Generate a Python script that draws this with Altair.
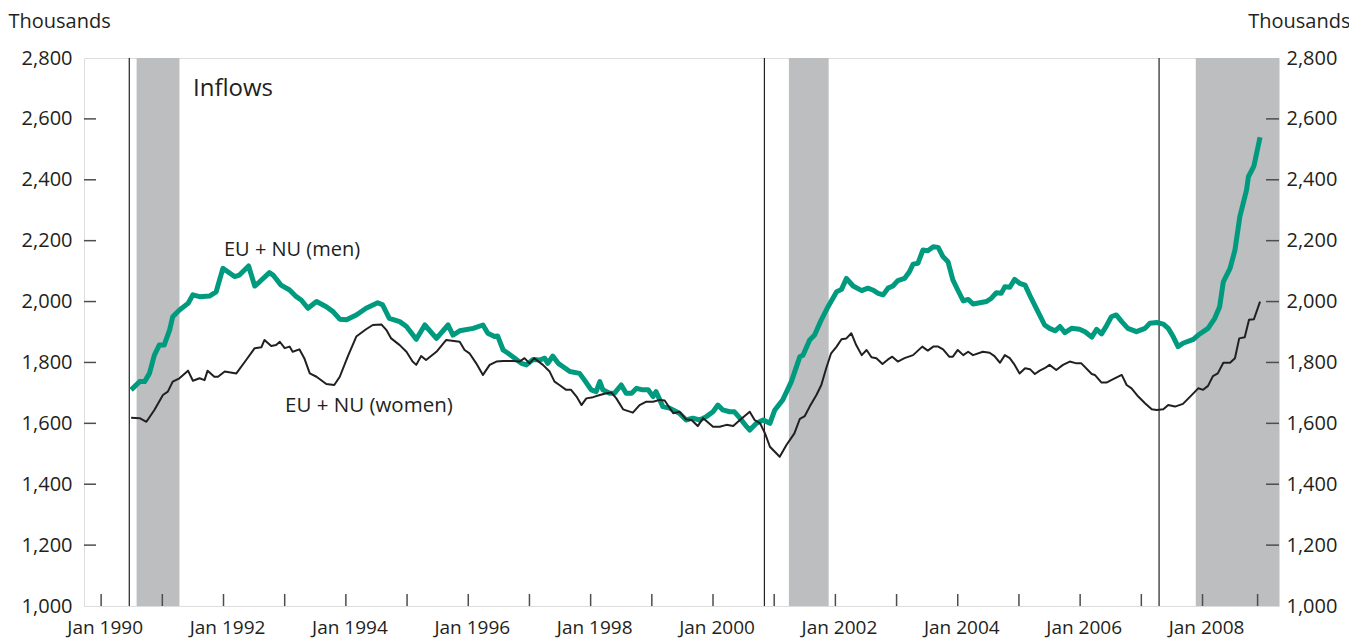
import altair as alt
import pandas as pd

# ---------------- data ----------------
men_years = [
    1990.49, 1990.63, 1990.71, 1990.79, 1990.87, 1990.95, 1991.03, 1991.12, 1991.17, 1991.28,
    1991.42, 1991.50, 1991.61, 1991.77, 1991.88, 1991.99, 1992.07, 1992.18, 1992.26, 1992.41,
    1992.51, 1992.59, 1992.75, 1992.81, 1992.94, 1993.08, 1993.19, 1993.27, 1993.38, 1993.52,
    1993.68, 1993.79, 1993.90, 1994.01, 1994.17, 1994.33, 1994.52, 1994.60, 1994.71, 1994.88,
    1994.99, 1995.15, 1995.29, 1995.48, 1995.67, 1995.75, 1995.86, 1996.08, 1996.24, 1996.32,
    1996.43, 1996.48, 1996.57, 1996.65, 1996.76, 1996.87, 1996.95, 1997.06, 1997.17, 1997.25,
    1997.30, 1997.38, 1997.47, 1997.55, 1997.66, 1997.82, 1997.90, 1998.01, 1998.09, 1998.15,
    1998.20, 1998.31, 1998.39, 1998.50, 1998.58, 1998.67, 1998.75, 1998.85, 1998.94, 1999.02,
    1999.07, 1999.13, 1999.18, 1999.29, 1999.45, 1999.56, 1999.67, 1999.78, 1999.89, 2000.00,
    2000.08, 2000.16, 2000.27, 2000.35, 2000.44, 2000.55, 2000.60, 2000.71, 2000.82, 2000.93,
    2001.01, 2001.14, 2001.28, 2001.42, 2001.47, 2001.58, 2001.66, 2001.77, 2001.88, 2002.02,
    2002.10, 2002.18, 2002.29, 2002.43, 2002.53, 2002.61, 2002.70, 2002.78, 2002.86, 2002.94,
    2003.02, 2003.13, 2003.21, 2003.27, 2003.35, 2003.43, 2003.51, 2003.60, 2003.68, 2003.76,
    2003.84, 2003.92, 2004.00, 2004.09, 2004.17, 2004.25, 2004.36, 2004.47, 2004.55, 2004.63,
    2004.71, 2004.77, 2004.85, 2004.93, 2005.01, 2005.10, 2005.20, 2005.31, 2005.42, 2005.50,
    2005.59, 2005.67, 2005.75, 2005.86, 2005.99, 2006.08, 2006.19, 2006.27, 2006.35, 2006.43,
    2006.51, 2006.59, 2006.68, 2006.78, 2006.92, 2007.06, 2007.14, 2007.25, 2007.36, 2007.44,
    2007.52, 2007.60, 2007.68, 2007.85, 2007.93, 2008.09, 2008.20, 2008.28, 2008.34, 2008.45,
    2008.53, 2008.61, 2008.72, 2008.75, 2008.84, 2008.94,
]
men_values = [
    1710, 1737, 1737, 1764, 1824, 1857, 1857, 1907, 1950, 1972,
    1994, 2022, 2016, 2018, 2032, 2109, 2098, 2082, 2087, 2117,
    2051, 2065, 2095, 2087, 2054, 2038, 2016, 2005, 1978, 2000,
    1983, 1967, 1942, 1940, 1956, 1978, 1996, 1989, 1945, 1934,
    1918, 1876, 1923, 1879, 1923, 1890, 1904, 1912, 1923, 1896,
    1885, 1887, 1841, 1830, 1814, 1797, 1792, 1810, 1808, 1814,
    1797, 1821, 1797, 1786, 1770, 1764, 1742, 1710, 1704, 1737,
    1710, 1699, 1699, 1726, 1699, 1699, 1715, 1710, 1710, 1688,
    1704, 1677, 1655, 1650, 1633, 1611, 1617, 1611, 1622, 1638,
    1660, 1644, 1638, 1638, 1617, 1589, 1578, 1600, 1611, 1600,
    1644, 1677, 1737, 1819, 1824, 1874, 1890, 1940, 1983, 2032,
    2040, 2076, 2051, 2036, 2044, 2038, 2027, 2022, 2044, 2051,
    2069, 2076, 2098, 2123, 2126, 2169, 2167, 2180, 2178, 2147,
    2131, 2071, 2038, 2002, 2007, 1992, 1996, 2000, 2011, 2029,
    2027, 2049, 2047, 2073, 2060, 2054, 2011, 1967, 1923, 1912,
    1904, 1918, 1898, 1912, 1909, 1901, 1883, 1909, 1894, 1920,
    1950, 1956, 1934, 1912, 1901, 1912, 1929, 1931, 1926, 1912,
    1885, 1852, 1863, 1876, 1890, 1912, 1945, 1983, 2065, 2109,
    2169, 2279, 2367, 2410, 2445, 2540,
]

women_years = [
    1990.49, 1990.63, 1990.74, 1990.87, 1991.01, 1991.09, 1991.17, 1991.28, 1991.42, 1991.50,
    1991.61, 1991.69, 1991.74, 1991.85, 1991.91, 1992.02, 1992.21, 1992.37, 1992.51, 1992.62,
    1992.67, 1992.78, 1992.86, 1992.92, 1993.00, 1993.08, 1993.13, 1993.24, 1993.32, 1993.41,
    1993.52, 1993.68, 1993.81, 1993.90, 1994.03, 1994.17, 1994.33, 1994.44, 1994.58, 1994.66,
    1994.74, 1994.88, 1994.99, 1995.09, 1995.15, 1995.23, 1995.31, 1995.48, 1995.64, 1995.86,
    1995.94, 1996.02, 1996.13, 1996.24, 1996.35, 1996.46, 1996.57, 1996.73, 1996.84, 1996.92,
    1997.00, 1997.08, 1997.22, 1997.33, 1997.41, 1997.49, 1997.60, 1997.68, 1997.77, 1997.85,
    1997.93, 1998.04, 1998.15, 1998.26, 1998.34, 1998.42, 1998.53, 1998.69, 1998.80, 1998.91,
    1999.02, 1999.13, 1999.21, 1999.35, 1999.45, 1999.50, 1999.56, 1999.65, 1999.75, 1999.84,
    2000.00, 2000.11, 2000.22, 2000.33, 2000.44, 2000.60, 2000.68, 2000.77, 2000.85, 2000.93,
    2001.09, 2001.20, 2001.33, 2001.42, 2001.50, 2001.58, 2001.69, 2001.77, 2001.85, 2001.93,
    2002.02, 2002.10, 2002.18, 2002.26, 2002.34, 2002.43, 2002.51, 2002.59, 2002.67, 2002.77,
    2002.86, 2002.93, 2003.02, 2003.13, 2003.27, 2003.42, 2003.51, 2003.60, 2003.68, 2003.76,
    2003.86, 2003.92, 2004.00, 2004.09, 2004.17, 2004.25, 2004.41, 2004.52, 2004.60, 2004.69,
    2004.77, 2004.85, 2004.93, 2005.01, 2005.10, 2005.18, 2005.26, 2005.34, 2005.42, 2005.50,
    2005.61, 2005.72, 2005.83, 2005.94, 2006.02, 2006.19, 2006.24, 2006.35, 2006.43, 2006.54,
    2006.68, 2006.76, 2006.84, 2006.95, 2007.06, 2007.17, 2007.25, 2007.36, 2007.44, 2007.55,
    2007.68, 2007.79, 2007.93, 2008.01, 2008.09, 2008.17, 2008.25, 2008.34, 2008.45, 2008.53,
    2008.60, 2008.69, 2008.76, 2008.84, 2008.94,
]
women_values = [
    1618, 1617, 1605, 1644, 1693, 1704, 1737, 1748, 1773, 1740,
    1748, 1742, 1773, 1753, 1753, 1770, 1764, 1808, 1847, 1850,
    1874, 1854, 1857, 1868, 1847, 1852, 1835, 1843, 1814, 1764,
    1753, 1729, 1726, 1753, 1819, 1885, 1909, 1923, 1925, 1907,
    1879, 1857, 1835, 1803, 1792, 1821, 1808, 1835, 1874, 1868,
    1841, 1830, 1797, 1759, 1792, 1803, 1805, 1805, 1803, 1814,
    1797, 1814, 1792, 1770, 1737, 1726, 1710, 1710, 1688, 1660,
    1682, 1686, 1693, 1699, 1701, 1682, 1646, 1635, 1660, 1671,
    1671, 1677, 1675, 1633, 1638, 1627, 1613, 1611, 1591, 1617,
    1589, 1589, 1595, 1591, 1611, 1638, 1611, 1600, 1567, 1523,
    1490, 1529, 1567, 1615, 1624, 1655, 1693, 1726, 1781, 1830,
    1852, 1876, 1879, 1896, 1857, 1824, 1841, 1817, 1814, 1795,
    1810, 1819, 1803, 1814, 1824, 1852, 1839, 1852, 1852, 1843,
    1819, 1819, 1841, 1824, 1835, 1824, 1835, 1832, 1821, 1799,
    1824, 1814, 1792, 1764, 1781, 1778, 1762, 1773, 1781, 1792,
    1775, 1792, 1803, 1797, 1797, 1762, 1759, 1734, 1734, 1745,
    1759, 1726, 1715, 1688, 1666, 1646, 1644, 1646, 1660, 1655,
    1664, 1686, 1715, 1710, 1723, 1755, 1764, 1799, 1799, 1814,
    1879, 1883, 1940, 1942, 2000,
]

event_years = [1990.46, 2000.84, 2007.29]
recession_start = [1990.58, 2001.24, 2007.89]
recession_end = [1991.28, 2001.89, 2009.25]

x_tick_values = [1990, 1991, 1992, 1993, 1994, 1995, 1996, 1997, 1998, 1999,
                 2000, 2001, 2002, 2003, 2004, 2005, 2006, 2007, 2008, 2008.9]
y_label_values = [1000, 1200, 1400, 1600, 1800, 2000, 2200, 2400, 2600, 2800]
y_tick_values = [1200, 1400, 1600, 1800, 2000, 2200, 2400, 2600]

series_names = ["EU + NU (men)", "EU + NU (women)"]
panel_title = "Inflows"
unit_title = "Thousands"

# ---------------- styles ----------------
W, H = 1195, 548
FONT = "Open Sans"
TXT = "#231f20"
AXC = "#4d4d4d"
GREEN = "#009a7e"
SHADE = "#bcbec0"

xscale = alt.Scale(domain=[1989.72, 2009.25], nice=False, zero=False)
yscale = alt.Scale(domain=[1000, 2800], nice=False, zero=False)

x_axis = alt.Axis(
    values=x_tick_values,
    labelExpr="(datum.value % 2 == 0) ? 'Jan ' + datum.value : ''",
    ticks=False, domain=False, grid=False, labelPadding=12, labelOffset=3.5,
    labelFontSize=19, labelColor=TXT, labelFont=FONT,
    labelFlush=False, labelOverlap=False, title=None,
)

left_axis = alt.Axis(
    orient="left", values=y_label_values, format=",.0f",
    ticks=False, domain=False, grid=False, labelPadding=12,
    labelFontSize=20, labelColor=TXT, labelFont=FONT,
    title=unit_title, titleAngle=0, titleAlign="left", titleBaseline="alphabetic",
    titleX=-76, titleY=-31, titleFontSize=20, titleFontWeight="normal",
    titleColor=TXT, titleFont=FONT,
)
right_axis = alt.Axis(
    orient="right", values=y_label_values, format=",.0f",
    ticks=False, domain=False, grid=False, labelPadding=7,
    labelFontSize=20, labelColor=TXT, labelFont=FONT,
    title=unit_title, titleAngle=0, titleAlign="right", titleBaseline="alphabetic",
    titleX=71, titleY=-31, titleFontSize=20, titleFontWeight="normal",
    titleColor=TXT, titleFont=FONT,
)

men_df = pd.DataFrame({"year": men_years, "value": men_values})
women_df = pd.DataFrame({"year": women_years, "value": women_values})
rec_df = pd.DataFrame({"start": recession_start, "end": recession_end})
ev_df = pd.DataFrame({"year": event_years})
xt_df = pd.DataFrame({"year": x_tick_values})
yt_df = pd.DataFrame({"v": y_tick_values})

shading = alt.Chart(rec_df).mark_rect(color=SHADE, clip=True).encode(
    x=alt.X("start:Q", scale=xscale, axis=x_axis),
    x2="end:Q",
    y=alt.value(0), y2=alt.value(H),
)

events = alt.Chart(ev_df).mark_rule(color=TXT, strokeWidth=1.2).encode(
    x=alt.X("year:Q", scale=xscale, axis=x_axis),
    y=alt.value(0), y2=alt.value(H),
)

xticks = alt.Chart(xt_df).mark_rule(color=AXC, strokeWidth=1.5).encode(
    x=alt.X("year:Q", scale=xscale, axis=x_axis),
    y=alt.value(H - 12), y2=alt.value(H),
)

yticks_left = alt.Chart(yt_df).mark_rule(color=AXC, strokeWidth=1.5).encode(
    y=alt.Y("v:Q", scale=yscale, axis=None),
    x=alt.value(0), x2=alt.value(12),
)
yticks_right = alt.Chart(yt_df).mark_rule(color=AXC, strokeWidth=1.5).encode(
    y=alt.Y("v:Q", scale=yscale, axis=None),
    x=alt.value(W - 13), x2=alt.value(W),
)

men_line = alt.Chart(men_df).mark_line(color=GREEN, strokeWidth=5, strokeJoin="round").encode(
    x=alt.X("year:Q", scale=xscale, axis=x_axis),
    y=alt.Y("value:Q", scale=yscale, axis=left_axis),
)
women_line = alt.Chart(women_df).mark_line(color=TXT, strokeWidth=2, strokeJoin="round").encode(
    x=alt.X("year:Q", scale=xscale, axis=x_axis),
    y=alt.Y("value:Q", scale=yscale, axis=None),
)
right_ax_layer = alt.Chart(men_df).mark_line(opacity=0).encode(
    x=alt.X("year:Q", scale=xscale, axis=x_axis),
    y=alt.Y("value:Q", scale=yscale, axis=right_axis),
)


def label(text, px, py, size):
    return alt.Chart(pd.DataFrame({"t": [text]})).mark_text(
        align="left", baseline="alphabetic", font=FONT, fontSize=size, color=TXT
    ).encode(x=alt.value(px), y=alt.value(py), text="t:N")


texts = [
    label(panel_title, 109, 38, 24),
    label(series_names[0], 140, 198, 20),
    label(series_names[1], 201, 354, 20.5),
]

chart = alt.layer(
    shading, events, xticks, yticks_left, yticks_right,
    men_line, women_line, right_ax_layer, *texts
).resolve_scale(y="independent").properties(
    width=W, height=H,
    padding={"left": 76, "top": 50, "right": 70, "bottom": 34},
    autosize=alt.AutoSizeParams(type="none"),
).configure_view(
    stroke=AXC, strokeWidth=1.5
).configure(font=FONT)

chart.save("out.html", embed_options={"renderer": "svg", "actions": False})
